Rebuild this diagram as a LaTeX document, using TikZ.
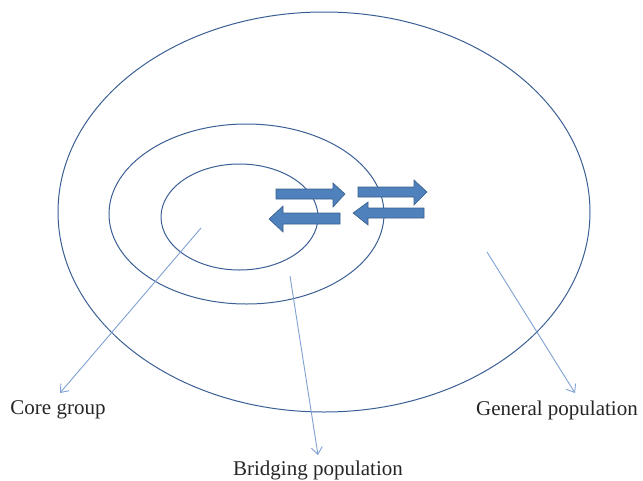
\documentclass[tikz,border=0pt]{standalone}
\usepackage{fontspec}
\setmainfont{Liberation Serif}
\usetikzlibrary{arrows.meta}
\definecolor{ringc}{HTML}{3A5F95}
\definecolor{leadc}{HTML}{7FA0D2}
\definecolor{blockf}{HTML}{4F81BD}
\definecolor{blockd}{HTML}{3A5F8C}
\begin{document}
\begin{tikzpicture}[x=1pt,y=-1pt,
  ring/.style={draw=ringc,line width=1pt},
  lead/.style={draw=leadc,line width=0.9pt,-{Straight Barb[length=7pt,width=11pt]}},
  blk/.style={fill=blockf,draw=blockd,line width=0.6pt},
  lbl/.style={font=\fontsize{21}{24}\selectfont,text=black!85,inner sep=0pt}]
\useasboundingbox (0,0) rectangle (643,480);
\draw[ring] (324,212) ellipse [x radius=266, y radius=200];
\draw[ring] (246.5,214) ellipse [x radius=137.5, y radius=90];
\draw[ring] (239.5,217) ellipse [x radius=78.5, y radius=53];
% block arrows
\draw[blk] (276,189) -- (333,189) -- (333,183) -- (345,194) -- (333,207) -- (333,199) -- (276,199) -- cycle;
\draw[blk] (340,213) -- (283,213) -- (283,206) -- (269,219) -- (283,232) -- (283,224) -- (340,224) -- cycle;
\draw[blk] (358,187) -- (414,187) -- (414,180) -- (427,192) -- (414,205) -- (414,197) -- (358,197) -- cycle;
\draw[blk] (424,208) -- (368,208) -- (368,202) -- (353,213) -- (368,225) -- (368,218) -- (424,218) -- cycle;
% labels
\node[lbl] (core) at (58,410) {Core group};
\node[lbl] (gen) at (557,410) {General population};
\node[lbl] (bridge) at (318,470) {Bridging population};
\coordinate (coreS) at (201,228);
\coordinate (coreE) at (60,393);
\coordinate (bridgeS) at (290,276);
\coordinate (bridgeE) at (318,455);
\coordinate (genS) at (487,252);
\coordinate (genE) at (575,393);
\draw[lead] (coreS) -- (coreE);
\draw[lead] (bridgeS) -- (bridgeE);
\draw[lead] (genS) -- (genE);
\end{tikzpicture}
\end{document}
